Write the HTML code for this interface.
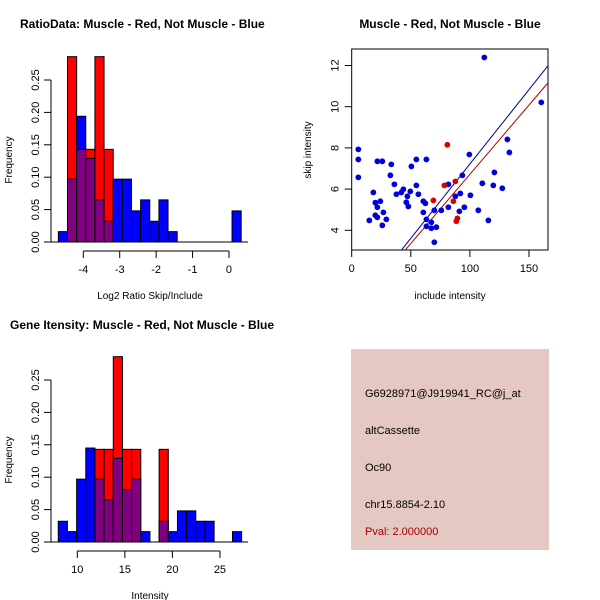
<!DOCTYPE html>
<html><head><meta charset="utf-8"><style>
body{margin:0;background:#fff}
svg{display:block;font-family:"Liberation Sans",sans-serif}
</style></head><body>
<svg id="c" width="600" height="600" xmlns="http://www.w3.org/2000/svg">
<rect width="600" height="600" fill="#fff"/>
<text x="20" y="28" font-size="12" font-weight="bold">RatioData: Muscle - Red, Not Muscle - Blue</text>
<text x="450" y="28" font-size="12" font-weight="bold" text-anchor="middle">Muscle - Red, Not Muscle - Blue</text>
<text x="10" y="329" font-size="12" font-weight="bold">Gene Itensity: Muscle - Red, Not Muscle - Blue</text>
<g id="h1"></g>
<g id="h2"></g>
<g id="sc"></g>
<g>
<rect x="351" y="349" width="198" height="201" fill="#e6c8c2"/>
<text x="365" y="397" font-size="11">G6928971@J919941_RC@j_at</text>
<text x="365" y="434" font-size="11">altCassette</text>
<text x="365" y="471" font-size="11">Oc90</text>
<text x="365" y="508" font-size="11">chr15.8854-2.10</text>
<text x="365" y="535" font-size="11" fill="#a00000">Pval: 2.000000</text>
</g>
</svg>
<script>
// Ratio histogram data
const ratioStart = -4.685;
const ratioWidth = 0.251;
const ratioBlue = [0.016,0.097,0.194,0.129,0.065,0.032,0.097,0.097,0.048,0.065,0.032,0.065,0.016,0,0,0,0,0,0,0.048];
const ratioRed  = [0,0.286,0.143,0.143,0.286,0.143,0,0,0,0,0,0,0,0,0,0,0,0,0,0];
const ratioTicks = [-4,-3,-2,-1,0];
// Intensity histogram data
const intStart = 8.0;
const intWidth = 0.964;
const intBlue = [0.032,0.016,0.097,0.145,0.097,0.065,0.129,0.081,0.097,0.016,0,0.032,0.016,0.048,0.048,0.032,0.032,0,0,0.016];
const intRed  = [0,0,0,0,0.143,0.143,0.286,0.143,0.143,0,0,0.143,0,0,0,0,0,0,0,0];
const intTicks = [10,15,20,25];
const freqTicks = ["0.00","0.05","0.10","0.15","0.20","0.25"];
// Scatter data
const blueX = [5.6,5.6,5.6,14.9,18.3,20.0,20.0,21.7,21.7,21.7,24.2,25.9,25.9,26.8,29.3,32.7,33.5,36.1,37.8,42.0,43.7,46.2,47.1,47.9,49.6,50.5,54.7,54.7,56.4,60.6,60.6,62.3,63.2,63.2,63.2,67.4,67.4,69.9,69.9,71.6,75.8,81.8,81.8,87.7,91.1,91.9,93.6,95.3,99.5,100.4,107.1,110.5,112.2,115.6,119.8,120.7,127.4,131.7,133.4,160.4];
const blueY = [7.93,7.44,6.57,4.48,5.84,5.34,4.73,5.12,4.63,7.35,5.41,7.35,4.24,4.87,4.53,6.67,7.20,6.23,5.75,5.84,5.99,5.36,5.65,5.16,5.89,7.10,6.18,7.44,5.75,4.87,5.41,5.31,7.44,4.53,4.19,4.39,4.10,3.42,4.97,4.15,4.97,6.23,5.12,5.65,4.92,5.79,6.67,5.12,7.68,5.70,4.97,6.28,12.39,4.48,6.18,6.81,6.04,8.41,7.78,10.21];
const redX = [80.9,69.1,78.4,87.7,86.0,88.5,89.4];
const redY = [8.15,5.45,6.18,6.37,5.41,4.44,4.58];
const blueSlope = 0.0722, redSlope = 0.0672;
const sxTicks = [0,50,100,150];
const syTicks = [4,6,8,10,12];

const NS="http://www.w3.org/2000/svg";
function mk(parent,tag,attrs){const e=document.createElementNS(NS,tag);for(const k in attrs)e.setAttribute(k,attrs[k]);parent.appendChild(e);return e;}
function txt(parent,x,y,s,attrs){const e=mk(parent,'text',Object.assign({x:x,y:y,'font-size':11},attrs||{}));e.textContent=s;return e;}

function hist(gid,oy,start,width,blue,red,ticks,x0,x0px,upx,xlabel){
  const g=document.getElementById(gid);
  const X=v=>x0px+(v-x0)*upx;
  const Y=f=>oy+242-f*(162/0.25);
  for(let i=0;i<blue.length;i++){
    const xa=X(start+i*width), xb=X(start+(i+1)*width);
    const b=blue[i], r=red[i];
    const top=Math.max(b,r);
    if(top>0){
      const c=b>=r?'#0000ff':'#ff0000';
      const el=mk(g,'rect',{x:xa,y:Y(top),width:xb-xa,height:Y(0)-Y(top),fill:c,stroke:'#000','stroke-width':1});
      
      
    }
    if(b>0&&r>0){
      const m=Math.min(b,r);
      const el=mk(g,'rect',{x:xa,y:Y(m),width:xb-xa,height:Y(0)-Y(m),fill:'#800080',stroke:'#000','stroke-width':1});
      
      
    }
  }
  mk(g,'line',{x1:51,x2:248,y1:Y(0),y2:Y(0),stroke:'#000'});
  mk(g,'line',{x1:51,x2:51,y1:Y(0),y2:Y(0.25),stroke:'#000'});
  freqTicks.forEach((t,i)=>{
    const y=Y(i*0.05);
    mk(g,'line',{x1:44,x2:51,y1:y,y2:y,stroke:'#000'});
    const e=txt(g,0,0,t,{transform:`translate(39,${y}) rotate(-90)`,'text-anchor':'middle'});
    
    
  });
  const yt=txt(g,0,0,'Frequency',{transform:`translate(12,${oy+160}) rotate(-90)`,'text-anchor':'middle',"font-size":10});
  
  
  const ay=oy+251;
  mk(g,'line',{x1:X(ticks[0]),x2:X(ticks[ticks.length-1]),y1:ay,y2:ay,stroke:'#000'});
  ticks.forEach(t=>{
    mk(g,'line',{x1:X(t),x2:X(t),y1:ay,y2:ay+7,stroke:'#000'});
    const e=txt(g,X(t),ay+22,String(t),{'text-anchor':'middle'});
    
    
  });
  const xt=txt(g,150,oy+299,xlabel,{'text-anchor':'middle',"font-size":10});
  
  
}
hist('h1',0,ratioStart,ratioWidth,ratioBlue,ratioRed,ratioTicks,-4,83.3,36.42,'Log2 Ratio Skip/Include');
hist('h2',300,intStart,intWidth,intBlue,intRed,intTicks,10,77.3,9.51,'Intensity');

(function(){
  const g=document.getElementById('sc');
  const L=351.7,R=548,T=49,B=250;
  const X=v=>L+v*1.182;
  const Y=v=>230.3-(v-4)*20.6;
  mk(g,'rect',{x:L,y:T,width:R-L,height:B-T,fill:'none',stroke:'#000'});
  const cp=mk(g,'clipPath',{id:'clipS'});
  mk(cp,'rect',{x:L,y:T,width:R-L,height:B-T});
  sxTicks.forEach(t=>{
    mk(g,'line',{x1:X(t),x2:X(t),y1:B,y2:B+7,stroke:'#000'});
    const e=txt(g,X(t),B+22,String(t),{'text-anchor':'middle'});
    
    
  });
  syTicks.forEach(t=>{
    mk(g,'line',{x1:L-7,x2:L,y1:Y(t),y2:Y(t),stroke:'#000'});
    const e=txt(g,0,0,String(t),{transform:`translate(${L-13},${Y(t)}) rotate(-90)`,'text-anchor':'middle'});
    
    
  });
  const xt=txt(g,450,299,'include intensity',{'text-anchor':'middle','font-size':10});
  
  
  const yt=txt(g,0,0,'skip intensity',{transform:`translate(311,150) rotate(-90)`,'text-anchor':'middle','font-size':10});
  
  
  const lg=mk(g,'g',{'clip-path':'url(#clipS)'});
  const bl=mk(lg,'line',{x1:X(0),y1:Y(0),x2:X(170),y2:Y(170*blueSlope),stroke:'#00008b'});
  
  
  const rl=mk(lg,'line',{x1:X(0),y1:Y(0),x2:X(170),y2:Y(170*redSlope),stroke:'#b00000'});
  
  
  blueX.forEach((x,i)=>{
    const c=mk(g,'circle',{cx:X(x),cy:Y(blueY[i]),r:2.9,fill:'#0000dd'});
    
    
  });
  redX.forEach((x,i)=>{
    const c=mk(g,'circle',{cx:X(x),cy:Y(redY[i]),r:2.9,fill:'#dd0000'});
    
    
  });
})();
</script>
</body></html>
